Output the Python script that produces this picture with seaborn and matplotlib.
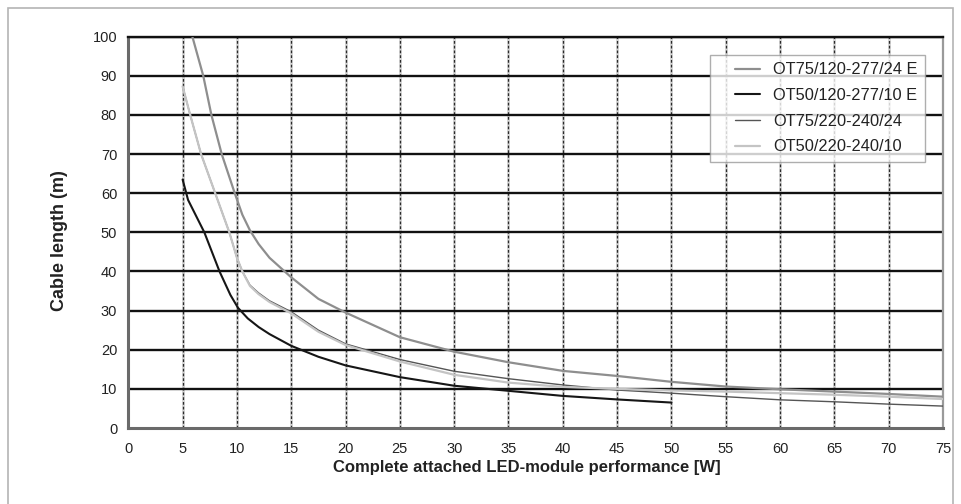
import numpy as np
import pandas as pd
import matplotlib
matplotlib.use("Agg")
import matplotlib.pyplot as plt
import seaborn as sns
from matplotlib.legend_handler import HandlerLine2D

# ==============================
# DATA
# ==============================
series_names = ["OT75/120-277/24 E", "OT50/120-277/10 E",
                "OT75/220-240/24", "OT50/220-240/10"]

ot75_e_w = [5.9, 6.9, 7.65, 8.6, 9.8, 10.5, 11.2, 12, 13, 15, 17.5, 20,
            25, 30, 35, 40, 45, 50, 55, 60, 65, 70, 75]
ot75_e_len = [100, 90, 80, 70, 60, 54.5, 50.5, 47, 43.5, 38.5, 33, 29.5,
              23.2, 19.5, 16.8, 14.6, 13.3, 11.8, 10.6, 9.9, 9.3, 8.7, 8.0]

ot50_e_w = [5, 5.5, 7, 8.4, 9.4, 10.1, 11, 12, 13, 15, 17.5, 20, 25, 30,
            35, 40, 45, 50]
ot50_e_len = [63.5, 58.3, 50, 40, 34, 30.7, 28, 25.8, 24, 21, 18.2, 16,
              13, 10.8, 9.5, 8.2, 7.3, 6.5]

ot75_w = [5, 5.7, 6.7, 8, 9.3, 10, 10.5, 11.2, 12, 13, 15, 17.5, 20, 25,
          30, 35, 40, 45, 50, 55, 60, 65, 70, 75]
ot75_len = [87.3, 80, 70, 60, 50, 43.5, 40, 36.5, 34.5, 32.5, 29.7, 25,
            21.5, 17.5, 14.5, 12.6, 11, 9.7, 8.9, 8.0, 7.2, 6.7, 6.1, 5.6]

ot50_w = [5, 5.7, 6.7, 8, 9.3, 10, 10.5, 11.2, 12, 13, 15, 17.5, 20, 25,
          30, 35, 40, 45, 50, 55, 60, 65, 70, 75]
ot50_len = [87.3, 80, 70, 60, 50, 43.5, 40, 36.3, 34.2, 32.2, 29.3, 24.6,
            21.2, 17.0, 13.6, 11.6, 10.5, 10.0, 9.6, 9.3, 8.9, 8.5, 8.0, 7.4]

x_ticks = list(range(0, 80, 5))
y_ticks = list(range(0, 110, 10))

line_colors = ["#8e8e8e", "#161616", "#555555", "#c4c4c4"]
line_widths = [1.6, 1.5, 1.0, 1.6]

# ==============================
# LONG FORMAT TABLE
# ==============================
frames = []
for name, w, l in zip(series_names,
                      [ot75_e_w, ot50_e_w, ot75_w, ot50_w],
                      [ot75_e_len, ot50_e_len, ot75_len, ot50_len]):
    frames.append(pd.DataFrame({"W": w, "m": l, "driver": name}))
df = pd.concat(frames, ignore_index=True)


# legend handle: short line on the right part of the handle box
class ShortLine(HandlerLine2D):
    def create_artists(self, legend, orig_handle, xdescent, ydescent,
                       width, height, fontsize, trans):
        arts = super().create_artists(legend, orig_handle, xdescent,
                                      ydescent, width, height, fontsize, trans)
        for a in arts:
            xd = np.asarray(a.get_xdata(), dtype=float)
            if len(xd) >= 2:
                start = xd[0] + 0.41 * (xd[-1] - xd[0])
                a.set_xdata(np.linspace(start, xd[-1], len(xd)))
        return arts


# ==============================
# PLOT
# ==============================
sns.set_style("white")
plt.rcParams["font.family"] = ["Liberation Sans", "DejaVu Sans"]

fig = plt.figure(figsize=(9.62, 5.04), dpi=100)
ax = fig.add_axes([128.3 / 962, 1 - 428 / 504,
                   (943 - 128.3) / 962, (428 - 36.7) / 504])

# outer frame of the picture
fig.add_artist(plt.Rectangle((8 / 962, -0.05), (953 - 8) / 962, 1.05 - 8 / 504,
                             transform=fig.transFigure, fill=False,
                             edgecolor="#b4b4b4", linewidth=1.2))

# vertical grid: pale band + dark dashes
ax.vlines(x_ticks[1:-1], 0, 100, colors="#d2d2d2", linewidth=2.0, zorder=0)
ax.vlines(x_ticks[1:-1], 0, 100, colors="#2a2a2a", linewidth=0.9,
          linestyles=(0, (2.2, 1.6)), zorder=0.5)
# horizontal grid: thick black
ax.hlines(y_ticks[1:], 0, 75, colors="#111111", linewidth=1.7, zorder=0.6)

sns.lineplot(data=df, x="W", y="m", hue="driver", hue_order=series_names,
             palette=line_colors, estimator=None, sort=True, ax=ax,
             legend=False, zorder=3)
for line, lw in zip(ax.get_lines(), line_widths):
    line.set_linewidth(lw)

ax.set_xlim(0, 75)
ax.set_ylim(0, 100)
ax.set_xticks(x_ticks)
ax.set_yticks(y_ticks)
ax.tick_params(axis="both", direction="out", length=3, width=1,
               color="#222222", labelsize=10.5, pad=5, labelcolor="#222222")
ax.tick_params(axis="x", pad=7)

for side in ["left", "bottom"]:
    ax.spines[side].set_color("#6a6a6a")
    ax.spines[side].set_linewidth(2.2)
ax.spines["right"].set_color("#9a9a9a")
ax.spines["right"].set_linewidth(1.6)
ax.spines["top"].set_color("#111111")
ax.spines["top"].set_linewidth(1.7)

ax.set_xlabel("Complete attached LED-module performance [W]",
              fontsize=12, fontweight="bold", color="#222222")
ax.set_ylabel("Cable length (m)", fontsize=13, fontweight="bold",
              color="#222222")
ax.xaxis.set_label_coords(0.489, -0.082)
ax.yaxis.set_label_coords(-0.074, 0.48)

handles = [plt.Line2D([0], [0], color=c, linewidth=lw)
           for c, lw in zip(line_colors, line_widths)]
leg = ax.legend(handles, series_names, loc="upper right",
                bbox_to_anchor=(0.978, 0.953), borderaxespad=0,
                fontsize=11.8, frameon=True, fancybox=False,
                handlelength=2.6, handletextpad=0.8, labelspacing=0.65,
                borderpad=0.45, handler_map={plt.Line2D: ShortLine()})
leg.get_frame().set_edgecolor("#9a9a9a")
leg.get_frame().set_linewidth(1.0)
for t in leg.get_texts():
    t.set_color("#222222")

plt.savefig("out.png", dpi=100, facecolor="white")
